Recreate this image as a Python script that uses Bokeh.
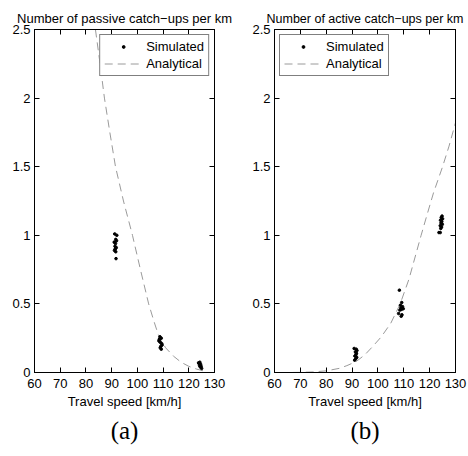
from bokeh.plotting import figure
from bokeh.layouts import row
from bokeh.models import Range1d, LinearAxis, FixedTicker, Title
from bokeh.embed import file_html
from bokeh.resources import INLINE

# ---- data ----
xticks = [60, 70, 80, 90, 100, 110, 120, 130]
yticks = [0, 0.5, 1, 1.5, 2, 2.5]
ytick_labels = ["0", "0.5", "1", "1.5", "2", "2.5"]

# passive (a)
passive_sim_v = [91.2, 91.6, 92.0, 91.0, 91.5, 91.9, 91.3, 91.8, 91.1, 91.6, 91.4, 91.7,
                 108.8, 109.3, 108.5, 108.4, 108.9, 109.5, 109.6, 109.1, 108.9, 109.3, 108.7,
                 123.8, 124.3, 124.6, 124.2, 124.8, 125.0, 124.5, 124.0]
passive_sim_y = [1.01, 0.97, 1.00, 0.95, 0.94, 0.96, 0.92, 0.91, 0.89, 0.88, 0.90, 0.83,
                 0.26, 0.25, 0.24, 0.23, 0.22, 0.21, 0.20, 0.19, 0.18, 0.17, 0.245,
                 0.07, 0.075, 0.06, 0.05, 0.045, 0.03, 0.04, 0.065]
passive_ana_v = [83.7, 85.5, 87.2, 89.3, 91.5, 94.6, 98.1, 101.2, 104.4, 106.5, 108.6,
                 111.0, 114.0, 117.0, 120.0, 123.0, 126.5]
passive_ana_y = [2.5, 2.25, 2.0, 1.75, 1.5, 1.25, 1.0, 0.75, 0.5, 0.37, 0.25,
                 0.18, 0.12, 0.075, 0.045, 0.025, 0.008]

# active (b)
active_sim_v = [90.8, 91.6, 91.9, 91.3, 91.7, 91.5, 91.1, 91.8, 91.4, 91.0,
                108.3, 109.2, 108.7, 109.5, 108.9, 109.8, 109.1, 108.5, 108.0, 109.3, 109.0,
                124.8, 124.5, 125.0, 124.2, 124.7, 124.4, 124.9, 124.1, 124.6, 124.3, 123.6, 124.1]
active_sim_y = [0.175, 0.17, 0.16, 0.15, 0.14, 0.13, 0.12, 0.11, 0.10, 0.09,
                0.60, 0.51, 0.49, 0.48, 0.47, 0.465, 0.46, 0.455, 0.43, 0.42, 0.41,
                1.14, 1.13, 1.12, 1.11, 1.10, 1.09, 1.08, 1.07, 1.06, 1.05, 1.02, 1.02]
active_ana_v = [62, 65, 70, 75, 80, 85, 88, 91.6, 95, 98, 101.3, 105, 108.6, 112,
                116.7, 119, 121.5, 125, 127.5, 130]
active_ana_y = [0.0, 0.0, 0.001, 0.004, 0.012, 0.03, 0.05, 0.08, 0.13, 0.19, 0.26, 0.36,
                0.5, 0.68, 1.0, 1.15, 1.31, 1.5, 1.65, 1.82]

FONT = "Liberation Sans"
GRAY = "#9a9a9a"


def make(title, title_size, sub, sim_v, sim_y, ana_v, ana_y, legend_loc, width, bl, br):
    p = figure(width=width, height=456, output_backend="svg", toolbar_location=None,
               x_range=Range1d(60, 130), y_range=Range1d(0, 2.5),
               min_border_left=bl, min_border_right=br, min_border_top=29,
               min_border_bottom=84, x_axis_label="Travel speed [km/h]")
    p.grid.visible = False
    p.outline_line_color = "black"
    p.title.text = title
    p.title.align = "center"
    p.title.text_font = FONT
    p.title.text_font_style = "normal"
    p.title.text_font_size = title_size
    p.title.text_color = "black"
    p.title.standoff = 7

    p.line(ana_v, ana_y, line_color=GRAY, line_width=1, line_dash="8 5",
           legend_label="Analytical")
    p.scatter(sim_v, sim_y, size=2.6, color="black", legend_label="Simulated")

    for ax in (p.xaxis[0], p.yaxis[0]):
        ax.major_tick_in = 5
        ax.major_tick_out = 0
        ax.minor_tick_in = 0
        ax.minor_tick_out = 0
        ax.major_label_text_font = FONT
        ax.major_label_text_font_size = "13px"
        ax.major_label_text_color = "black"
        ax.axis_label_text_font = FONT
        ax.axis_label_text_font_size = "13px"
        ax.axis_label_text_font_style = "normal"
        ax.axis_label_text_color = "black"
        ax.axis_line_color = "black"
        ax.major_tick_line_color = "black"
    p.xaxis[0].ticker = FixedTicker(ticks=xticks)
    p.yaxis[0].ticker = FixedTicker(ticks=yticks)
    p.yaxis[0].major_label_overrides = {t: l for t, l in zip(yticks, ytick_labels)}
    p.xaxis[0].major_label_standoff = 6
    p.xaxis[0].axis_label_standoff = 3
    p.yaxis[0].major_label_standoff = 4

    top = LinearAxis(ticker=FixedTicker(ticks=xticks), major_tick_in=5, major_tick_out=0,
                     minor_tick_in=0, minor_tick_out=0, major_label_text_color=None,
                     major_label_overrides={t: "" for t in xticks}, major_label_standoff=0)
    right = LinearAxis(ticker=FixedTicker(ticks=yticks), major_tick_in=5, major_tick_out=0,
                       minor_tick_in=0, minor_tick_out=0, major_label_text_color=None,
                       major_label_overrides={t: "" for t in yticks}, major_label_standoff=0)
    p.add_layout(top, "above")
    p.add_layout(right, "right")

    p.add_layout(Title(text=sub, align="center", text_font="Liberation Serif",
                       text_font_size="25px", text_font_style="normal", text_color="black",
                       standoff=6), "below")

    lg = p.legend[0]
    lg.items = list(reversed(lg.items))
    lg.location = legend_loc
    lg.margin = 5
    lg.padding = 4
    lg.spacing = 2
    lg.glyph_width = 38
    lg.glyph_height = 7
    lg.label_height = 15
    lg.label_standoff = 4
    lg.label_text_font = FONT
    lg.label_text_font_size = "13px"
    lg.label_text_color = "black"
    lg.border_line_color = "black"
    lg.border_line_width = 1
    lg.background_fill_alpha = 1
    return p


p1 = make("Number of passive catch\u2212ups per km", "13px", "(a)", passive_sim_v, passive_sim_y,
          passive_ana_v, passive_ana_y, "top_right", 240, 34, 26)
p2 = make("Number of active catch\u2212ups per km", "12.5px", "(b)", active_sim_v, active_sim_y,
          active_ana_v, active_ana_y, "top_left", 228, 34, 13)

layout = row(p1, p2)
open("out.html", "w").write(file_html(layout, INLINE))
